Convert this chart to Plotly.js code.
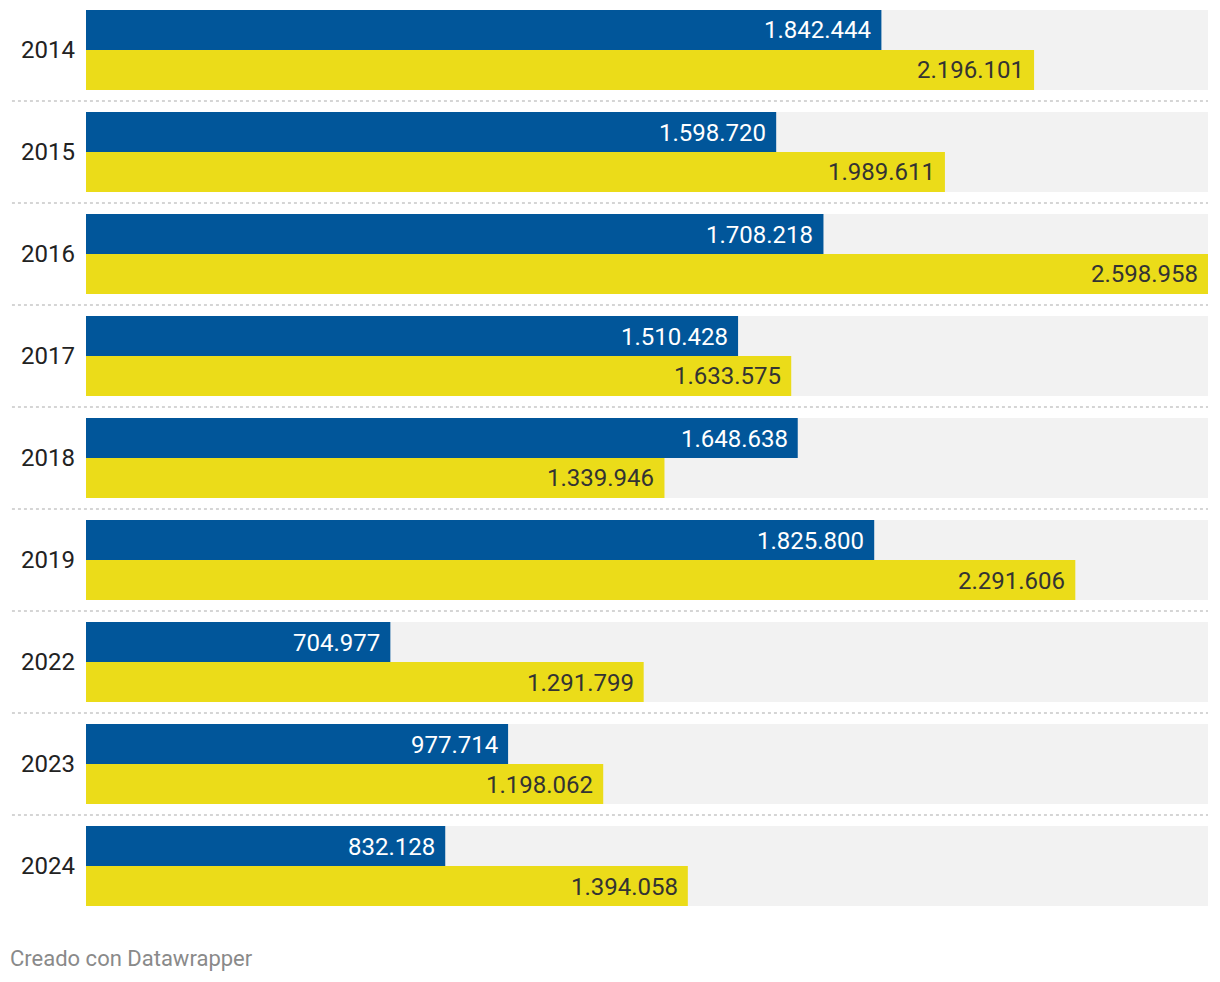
<!DOCTYPE html>
<html><head><meta charset="utf-8">
<script src="https://cdn.plot.ly/plotly-3.0.1.min.js"></script>
<style>html,body{margin:0;padding:0;background:#fff}#chart{width:1220px;height:982px}</style>
</head><body><div id="chart"></div>
<script>
const years = ["2014","2015","2016","2017","2018","2019","2022","2023","2024"];
const seriesBlue = [1842444,1598720,1708218,1510428,1648638,1825800,704977,977714,832128];
const seriesYellow = [2196101,1989611,2598958,1633575,1339946,2291606,1291799,1198062,1394058];
const footer = "Creado con Datawrapper";

const BLUE = "#01569a", YELLOW = "#ebdc19";
const fmt = v => v.toString().replace(/\B(?=(\d{3})+(?!\d))/g, ".");
const xmax = Math.max(...seriesBlue, ...seriesYellow);
const half = 0.392;

const shapes = [];
const annotations = [];
years.forEach((y, i) => {
  shapes.push({type:"rect", xref:"paper", yref:"y", x0:0, x1:1, y0:i-half, y1:i+half,
    fillcolor:"#f2f2f2", line:{width:0}, layer:"below"});
  if (i < years.length - 1) {
    shapes.push({type:"line", xref:"paper", yref:"y", x0:-0.066, x1:1, y0:i+0.5, y1:i+0.5,
      line:{color:"#c8c8c8", width:1.5, dash:"dot"}, layer:"below"});
  }
  annotations.push({x:seriesBlue[i], y:i-half/2, xref:"x", yref:"y", text:fmt(seriesBlue[i]),
    showarrow:false, xanchor:"right", xshift:-8, yshift:-0.5, font:{family:"Roboto", size:24, color:"#ffffff"}});
  annotations.push({x:seriesYellow[i], y:i+half/2, xref:"x", yref:"y", text:fmt(seriesYellow[i]),
    showarrow:false, xanchor:"right", xshift:-8, yshift:-0.5, font:{family:"Roboto", size:24, color:"#333333"}});
});
annotations.push({x:-86/1122, y:0, xref:"paper", yref:"paper", yshift:-52, xshift:8, xanchor:"left", yanchor:"middle",
  text:footer, showarrow:false, font:{family:"Roboto", size:22, color:"#8a8a8a"}});

const data = [
  {type:"bar", orientation:"h", y:years, x:seriesBlue, marker:{color:BLUE}, hoverinfo:"none"},
  {type:"bar", orientation:"h", y:years, x:seriesYellow, marker:{color:YELLOW}, hoverinfo:"none"}
];
const layout = {
  width:1220, height:982,
  margin:{l:86, r:12, t:10, b:76},
  paper_bgcolor:"#fff", plot_bgcolor:"rgba(0,0,0,0)",
  barmode:"group", bargap:0.216, bargroupgap:0,
  showlegend:false,
  xaxis:{range:[0,xmax], visible:false, fixedrange:true},
  yaxis:{type:"category", range:[years.length-1+half, -half], showgrid:false, zeroline:false, showline:false,
    ticks:"", ticklabelstandoff:10, tickfont:{family:"Roboto", size:24, color:"#222"}},
  shapes:shapes, annotations:annotations,
  font:{family:"Roboto"}
};
Plotly.newPlot("chart", data, layout, {staticPlot:true, displayModeBar:false});
</script></body></html>
